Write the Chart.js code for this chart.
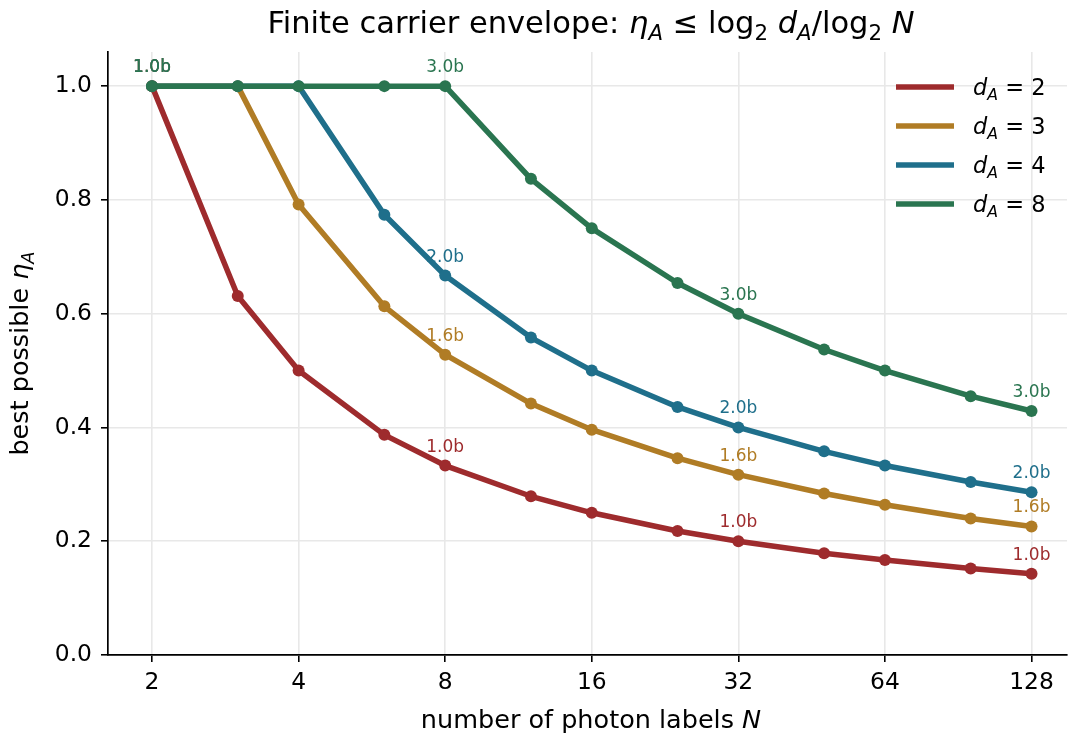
<!DOCTYPE html>
<html>
<head>
<meta charset="utf-8">
<title>Finite carrier envelope</title>
<style>
  html, body { margin: 0; padding: 0; background: #fff; overflow: hidden; }
  #wrap { width: 1073px; height: 739px; position: relative; overflow: hidden; }
  #chart { display: block; }
</style>
</head>
<body>
<div id="wrap"><canvas id="chart"></canvas></div>
<script src="https://cdn.jsdelivr.net/npm/chart.js"></script>
<script>
  // values
  const nLabels = [2, 3, 4, 6, 8, 12, 16, 24, 32, 48, 64, 96, 128];
  const etaD2 = [1.0, 0.631, 0.5, 0.387, 0.333, 0.279, 0.25, 0.218, 0.2, 0.179, 0.167, 0.152, 0.143];
  const etaD3 = [1.0, 1.0, 0.792, 0.613, 0.528, 0.442, 0.396, 0.346, 0.317, 0.284, 0.264, 0.24, 0.226];
  const etaD4 = [1.0, 1.0, 1.0, 0.774, 0.667, 0.558, 0.5, 0.436, 0.4, 0.358, 0.333, 0.304, 0.286];
  const etaD8 = [1.0, 1.0, 1.0, 1.0, 1.0, 0.837, 0.75, 0.654, 0.6, 0.537, 0.5, 0.455, 0.429];
  const dValues = [2, 3, 4, 8];
  const xTicks = [2, 4, 8, 16, 32, 64, 128];
  const yTicks = [0, 0.2, 0.4, 0.6, 0.8, 1.0];
  // which points carry a "bits" tag, and the tags
  const tagIndex = [0, 4, 8, 12];
  const bitsD2 = ['1.0b', '1.0b', '1.0b', '1.0b'];
  const bitsD3 = ['1.0b', '1.6b', '1.6b', '1.6b'];
  const bitsD4 = ['1.0b', '2.0b', '2.0b', '2.0b'];
  const bitsD8 = ['1.0b', '3.0b', '3.0b', '3.0b'];

  const colors = ['#9e2b2d', '#b07c25', '#1f6f8b', '#2a7550'];
  const FONT = '"DejaVu Sans", sans-serif';

  const series = [etaD2, etaD3, etaD4, etaD8];
  const bits = [bitsD2, bitsD3, bitsD4, bitsD8];

  const datasets = series.map((vals, i) => ({
    label: 'd_A = ' + dValues[i],
    data: nLabels.map((n, k) => ({ x: n, y: vals[k] })),
    borderColor: colors[i],
    backgroundColor: colors[i],
    borderWidth: 5.5,
    borderJoinStyle: 'round',
    pointRadius: 6,
    pointBorderWidth: 0,
    pointBackgroundColor: colors[i],
    tension: 0,
    order: series.length - i
  }));

  // draws a run of text pieces, some italic, some subscript
  function drawRich(ctx, segs, x, y, size, align, color) {
    const parts = segs.map(s => {
      const fs = s.sub ? size * 0.7 : size;
      ctx.font = (s.it ? 'italic ' : '') + fs + 'px ' + FONT;
      return { s: s, fs: fs, w: ctx.measureText(s.t).width };
    });
    const total = parts.reduce((a, p) => a + p.w, 0);
    let cx = align === 'center' ? x - total / 2 : x;
    ctx.fillStyle = color || '#000';
    ctx.textBaseline = 'alphabetic';
    ctx.textAlign = 'left';
    parts.forEach(p => {
      ctx.font = (p.s.it ? 'italic ' : '') + p.fs + 'px ' + FONT;
      ctx.fillText(p.s.t, cx, y + (p.s.sub ? size * 0.22 : 0));
      cx += p.w;
    });
  }

  const textPlugin = {
    id: 'texts',
    afterDatasetsDraw(chart) {
      const ctx = chart.ctx;
      ctx.save();
      // bit tags above chosen points
      series.forEach((vals, i) => {
        const meta = chart.getDatasetMeta(i);
        ctx.font = '17px ' + FONT;
        ctx.fillStyle = colors[i];
        ctx.textAlign = 'center';
        ctx.textBaseline = 'alphabetic';
        tagIndex.forEach((k, j) => {
          const pt = meta.data[k];
          ctx.fillText(bits[i][j], pt.x, pt.y - 14);
        });
      });
      ctx.restore();
    },
    afterDraw(chart) {
      const ctx = chart.ctx;
      const area = chart.chartArea;
      ctx.save();
      // title
      drawRich(ctx, [
        { t: 'Finite carrier envelope: ' },
        { t: 'η', it: true }, { t: 'A', it: true, sub: true },
        { t: ' ≤ log' }, { t: '2', sub: true }, { t: ' ' },
        { t: 'd', it: true }, { t: 'A', it: true, sub: true },
        { t: '/log' }, { t: '2', sub: true }, { t: ' ' },
        { t: 'N', it: true }
      ], 591, 33, 30.5, 'center');

      // x axis title
      drawRich(ctx, [
        { t: 'number of photon labels ' }, { t: 'N', it: true }
      ], 591, 728, 25.5, 'center');

      // y axis title
      ctx.save();
      ctx.translate(28, (area.top + area.bottom) / 2);
      ctx.rotate(-Math.PI / 2);
      drawRich(ctx, [
        { t: 'best possible ' }, { t: 'η', it: true }, { t: 'A', it: true, sub: true }
      ], 0, 0, 25.5, 'center');
      ctx.restore();

      // legend
      dValues.forEach((d, i) => {
        const y = 87 + i * 39;
        ctx.strokeStyle = colors[i];
        ctx.lineWidth = 5.5;
        ctx.beginPath();
        ctx.moveTo(896, y);
        ctx.lineTo(954, y);
        ctx.stroke();
        drawRich(ctx, [
          { t: 'd', it: true }, { t: 'A', it: true, sub: true },
          { t: ' = ' }, { t: String(d) }
        ], 973, y + 8, 22.5, 'left');
      });
      ctx.restore();
    }
  };

  const tickFont = { family: FONT, size: 23.4 };

  new Chart(document.getElementById('chart'), {
    type: 'line',
    data: { datasets: datasets },
    options: {
      responsive: true,
      maintainAspectRatio: false,
      animation: false,
      layout: { padding: { top: 52, right: 0, bottom: 0, left: 0 } },
      plugins: {
        legend: { display: false },
        title: { display: false },
        tooltip: { enabled: false }
      },
      scales: {
        x: {
          type: 'logarithmic',
          min: Math.pow(2, 0.6997),
          max: Math.pow(2, 7.242),
          afterBuildTicks: s => { s.ticks = xTicks.map(v => ({ value: v })); },
          afterFit: s => { s.height = 84; },
          ticks: {
            autoSkip: false, maxRotation: 0, padding: 7,
            color: '#000', font: tickFont,
            callback: v => String(v)
          },
          grid: { color: '#e8e8e8', lineWidth: 1.6, tickColor: '#000', tickLength: 7, tickWidth: 1.6 },
          border: { display: true, color: '#000', width: 1.7 }
        },
        y: {
          type: 'linear',
          min: 0,
          max: 1.06,
          afterBuildTicks: s => { s.ticks = yTicks.map(v => ({ value: v })); },
          afterFit: s => { s.width = 108; },
          ticks: {
            padding: 9, color: '#000', font: tickFont,
            callback: v => Number(v).toFixed(1)
          },
          grid: { color: '#e8e8e8', lineWidth: 1.6, tickColor: '#000', tickLength: 7, tickWidth: 1.6 },
          border: { display: true, color: '#000', width: 1.7 }
        }
      }
    },
    plugins: [textPlugin]
  });
</script>
</body>
</html>
